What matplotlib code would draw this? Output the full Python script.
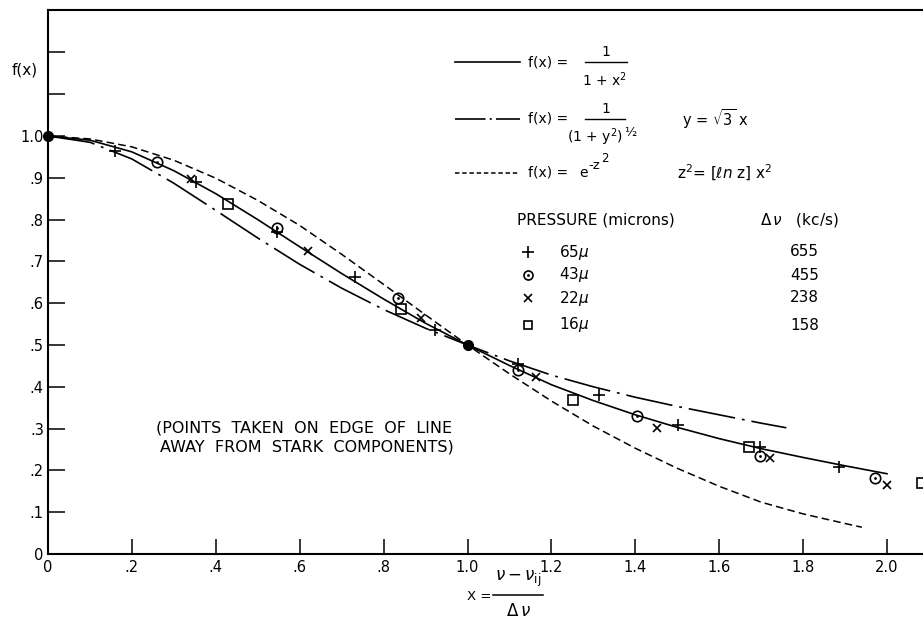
import matplotlib
matplotlib.use("Agg")
import matplotlib.pyplot as plt
from matplotlib.lines import Line2D

plt.rcParams['font.family'] = ['DejaVu Sans']
plt.rcParams['mathtext.fontset'] = 'dejavusans'
plt.rcParams['lines.scale_dashes'] = False

# theoretical curves, values
curve_x = [0.0, 0.1, 0.2, 0.3, 0.4, 0.5, 0.6, 0.7, 0.8, 0.9, 1.0,
           1.1, 1.2, 1.3, 1.4, 1.5, 1.6, 1.7, 1.8, 1.9, 2.0]
lorentz_y = [1.0, 0.990, 0.962, 0.917, 0.862, 0.800, 0.735, 0.671, 0.610, 0.552, 0.500,
             0.451, 0.405, 0.367, 0.333, 0.303, 0.276, 0.252, 0.231, 0.211, 0.192]
dashdot_x = [0.0, 0.1, 0.2, 0.3, 0.4, 0.5, 0.6, 0.7, 0.8, 0.9, 1.0,
             1.1, 1.2, 1.3, 1.4, 1.5, 1.6, 1.7, 1.76]
dashdot_y = [1.0, 0.985, 0.945, 0.887, 0.822, 0.756, 0.693, 0.636, 0.585, 0.540, 0.500,
             0.462, 0.428, 0.400, 0.375, 0.353, 0.333, 0.313, 0.302]
gauss_x = [0.0, 0.1, 0.2, 0.3, 0.4, 0.5, 0.6, 0.7, 0.8, 0.9, 1.0,
           1.1, 1.2, 1.3, 1.4, 1.5, 1.6, 1.7, 1.8, 1.9, 1.94]
gauss_y = [1.0, 0.993, 0.974, 0.942, 0.899, 0.846, 0.786, 0.717, 0.645, 0.572, 0.500,
           0.431, 0.366, 0.306, 0.253, 0.205, 0.162, 0.124, 0.096, 0.073, 0.064]

# measured points
anchor_x = [0.0, 1.0]
anchor_y = [1.0, 0.5]
p65_x = [0.160, 0.353, 0.547, 0.732, 0.922, 1.121, 1.314, 1.501, 1.697, 1.885]
p65_y = [0.965, 0.890, 0.770, 0.662, 0.537, 0.455, 0.380, 0.309, 0.256, 0.207]
p43_x = [0.260, 0.547, 0.834, 1.121, 1.403, 1.697, 1.971]
p43_y = [0.937, 0.780, 0.612, 0.439, 0.329, 0.234, 0.183]
p22_x = [0.341, 0.620, 0.888, 1.163, 1.451, 1.721, 1.999]
p22_y = [0.897, 0.724, 0.564, 0.423, 0.302, 0.229, 0.164]
p16_x = [0.430, 0.842, 1.252, 1.672, 2.083]
p16_y = [0.838, 0.585, 0.368, 0.256, 0.169]

xticks = [0.0, 0.2, 0.4, 0.6, 0.8, 1.0, 1.2, 1.4, 1.6, 1.8, 2.0]
xlabels = ['0', '.2', '.4', '.6', '.8', '1.0', '1.2', '1.4', '1.6', '1.8', '2.0']
yticks = [0.0, 0.1, 0.2, 0.3, 0.4, 0.5, 0.6, 0.7, 0.8, 0.9, 1.0, 1.1, 1.2]
ylabels = ['0', '.1', '.2', '.3', '.4', '.5', '.6', '.7', '.8', '.9', '1.0', '', '']

pressures = ['65$\\mu$', '43$\\mu$', '22$\\mu$', '16$\\mu$']
widths = ['655', '455', '238', '158']

W, H = 923, 621
fig = plt.figure(figsize=(W / 100, H / 100), dpi=100)
fig.patch.set_facecolor('white')
ax = fig.add_axes([48 / W, 67 / H, 875 / W, 544 / H])

DASHDOT = (0, (34, 5, 2, 5))
DASHED = (0, (5.5, 3))

ax.plot(curve_x, lorentz_y, color='black', lw=1.2)
ax.plot(dashdot_x, dashdot_y, color='black', lw=1.2, linestyle=DASHDOT)
ax.plot(gauss_x, gauss_y, color='black', lw=1.1, linestyle=DASHED)

ax.plot(anchor_x, anchor_y, 'o', color='black', ms=7, clip_on=False)
ax.plot(p65_x, p65_y, '+', color='black', ms=9, mew=1.2)
ax.plot(p43_x, p43_y, 'o', mfc='none', mec='black', ms=7.5, mew=1.2)
ax.plot(p43_x, p43_y, '.', color='black', ms=2)
ax.plot(p22_x, p22_y, 'x', color='black', ms=6, mew=1.2)
ax.plot(p16_x, p16_y, 's', mfc='none', mec='black', ms=6.5, mew=1.2, clip_on=False)

ax.set_xlim(0, 875 / 419.5)
ax.set_ylim(0, 544 / 418)
ax.spines['right'].set_visible(False)
for s in ['left', 'bottom', 'top']:
    ax.spines[s].set_linewidth(1.5)
ax.set_xticks(xticks)
ax.set_xticklabels(xlabels)
ax.set_yticks(yticks)
ax.set_yticklabels(ylabels)
ax.tick_params(axis='x', direction='in', length=11, width=1.1, pad=4, labelsize=10.5)
ax.tick_params(axis='y', direction='in', length=12, width=1.1, pad=3, labelsize=10.5)


# helpers to place legend pieces in pixel units of the picture
def ftxt(px, py, s, **kw):
    kw.setdefault('fontsize', 10)
    kw.setdefault('va', 'center')
    fig.text(px / W, 1 - py / H, s, **kw)


def fline(x0, x1, py, **kw):
    fig.add_artist(Line2D([x0 / W, x1 / W], [1 - py / H] * 2,
                          transform=fig.transFigure, color='black', **kw))


def fmark(px, py, **kw):
    fig.add_artist(Line2D([px / W], [1 - py / H], transform=fig.transFigure,
                          color='black', **kw))


ftxt(12, 70, 'f(x)', fontsize=11)

# curve key
fline(455, 520, 62, lw=1.2)
ftxt(528, 62, 'f(x) =')
fline(585, 627, 62, lw=1.0)
ftxt(606, 52, '1', ha='center')
ftxt(604, 80, '1 + x$^2$', ha='center')

fline(455, 520, 119, lw=1.2, linestyle=(0, (22, 3, 1.5, 3)))
ftxt(528, 119, 'f(x) =')
fline(585, 625, 119, lw=1.0)
ftxt(606, 109, '1', ha='center')
ftxt(595, 137, '(1 + y$^2$)', ha='center')
ftxt(630, 133, '\u00bd', ha='center', fontsize=9)
ftxt(682, 119, 'y = $\\sqrt{3}$ x', fontsize=10.5)

fline(455, 520, 173, lw=1.1, linestyle=(0, (3.2, 2.0)))
ftxt(528, 177, 'f(x) =', va='baseline')
ftxt(579, 177, 'e', va='baseline')
ftxt(588, 169, '-z', va='baseline', fontsize=9.5)
ftxt(601, 162, '2', va='baseline', fontsize=8.5)
ftxt(677, 173, 'z$^2$= [$\\ell n$ z] x$^2$', fontsize=11)

# pressure table
ftxt(517, 220, 'PRESSURE (microns)', fontsize=11)
ftxt(760, 220, '$\\Delta\\,\\nu$   (kc/s)', fontsize=11)
row_y = [252, 275, 298, 325]
fmark(528, row_y[0], marker='+', ms=8, mew=1.2)
fmark(528, row_y[1], marker='o', ms=6.5, mfc='none', mew=1.2)
fmark(528, row_y[1], marker='.', ms=2)
fmark(528, row_y[2], marker='x', ms=5.5, mew=1.2)
fmark(528, row_y[3], marker='s', ms=5.5, mfc='none', mew=1.2)
for yy, pr, wd in zip(row_y, pressures, widths):
    ftxt(559, yy, pr, fontsize=11)
    ftxt(790, yy, wd, fontsize=11)

ftxt(304, 428, '(POINTS  TAKEN  ON  EDGE  OF  LINE', ha='center', fontsize=11.5)
ftxt(307, 447, 'AWAY  FROM  STARK  COMPONENTS)', ha='center', fontsize=11.5)

# x axis label
ftxt(467, 596, 'X =', fontsize=9.5)
ftxt(518, 579, '$\\nu - \\nu_{\\mathregular{ij}}$', ha='center', fontsize=12)
fline(493, 543, 595, lw=1.1)
ftxt(518, 611, '$\\Delta\\,\\nu$', ha='center', fontsize=12)

plt.savefig("out.png", dpi=100)
